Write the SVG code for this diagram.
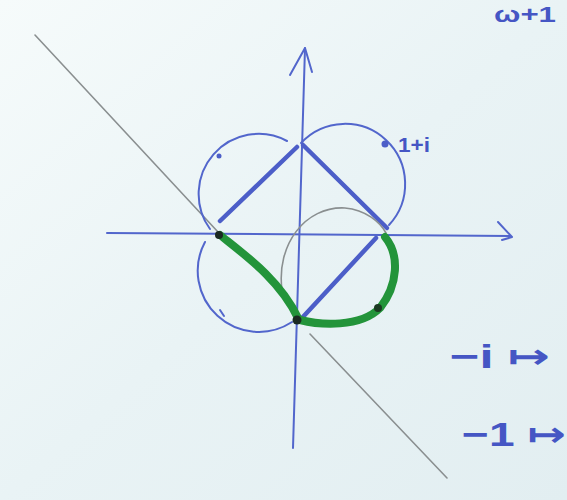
<svg xmlns="http://www.w3.org/2000/svg" width="567" height="500" viewBox="0 0 567 500">
<defs>
<linearGradient id="paper" x1="0" y1="0" x2="1" y2="1">
<stop offset="0" stop-color="#f6fbfb"/>
<stop offset="0.5" stop-color="#e9f3f5"/>
<stop offset="1" stop-color="#e2eef1"/>
</linearGradient>
<style>
.pen{fill:none;stroke:#5266cc;stroke-width:2;stroke-linecap:round;stroke-linejoin:round}
.edge{fill:none;stroke:#4c5ec8;stroke-width:4.5;stroke-linecap:round}
.green{fill:none;stroke:#23943a;stroke-width:8;stroke-linecap:round}
.pencil{fill:none;stroke:#8a8f90;stroke-width:1.6;stroke-linecap:round}
.lbl{font-family:"Liberation Sans","DejaVu Sans",sans-serif;fill:#4556c4;font-weight:bold}
</style>
</defs>
<rect width="567" height="500" fill="url(#paper)"/>
<g id="pencil-line">
<path class="pencil" d="M35 35 L218 232 M310 334 L447 478"/>
</g>
<g id="axes">
<path class="pen" d="M107 233 L510 236" stroke-width="2.2"/>
<path class="pen" d="M498 222 L512 237 L502 240" stroke-width="3"/>
<path class="pen" d="M305 48 L293 448" stroke-width="2.2"/>
<path class="pen" d="M290 75 L305 48 L312 72" stroke-width="3"/>
</g>
<g id="circles">
<path class="pen" d="M287 141 A60 60 0 0 0 210 229"/>
<path class="pen" d="M301 143 A60 60 0 0 1 389 225"/>
<path class="pen" d="M205 242 A61 61 0 0 0 292 322"/>
<circle cx="219" cy="156" r="2.5" fill="#4c5ec8"/>
<path class="pen" d="M220 310 L224 316" stroke-width="3"/>
</g>
<g id="square">
<path class="edge" d="M220 221 L297 147"/>
<path class="edge" d="M303 145 L387 228"/>
<path class="edge" d="M376 238 L302 318"/>
</g>
<g id="gray-arc">
<path class="pencil" d="M282 290 C276 245 305 206 345 208 C366 210 380 222 386 233"/>
</g>
<g id="green-path">
<path class="green" d="M220 235 C245 255 280 280 298 318"/>
<path class="green" d="M385 237 C400 255 398 285 380 308 C360 328 320 325 300 320"/>
</g>
<g id="points">
<circle cx="219" cy="235" r="4" fill="#1b2a22"/>
<circle cx="297" cy="320" r="4.5" fill="#1b2a22"/>
<circle cx="378" cy="308" r="4" fill="#1b3a22"/>
<circle cx="385" cy="144" r="3.5" fill="#4c5ec8"/>
</g>
<g id="labels">
<text class="lbl" x="398" y="152" font-size="21" textLength="32" lengthAdjust="spacingAndGlyphs">1+i</text>
<text class="lbl" x="494" y="22" font-size="22" textLength="62" lengthAdjust="spacingAndGlyphs">ω+1</text>
<text class="lbl" x="450" y="368" font-size="34" textLength="100" lengthAdjust="spacingAndGlyphs">−i ↦</text>
<text class="lbl" x="462" y="446" font-size="34" textLength="104" lengthAdjust="spacingAndGlyphs">−1 ↦</text>
</g>
</svg>
